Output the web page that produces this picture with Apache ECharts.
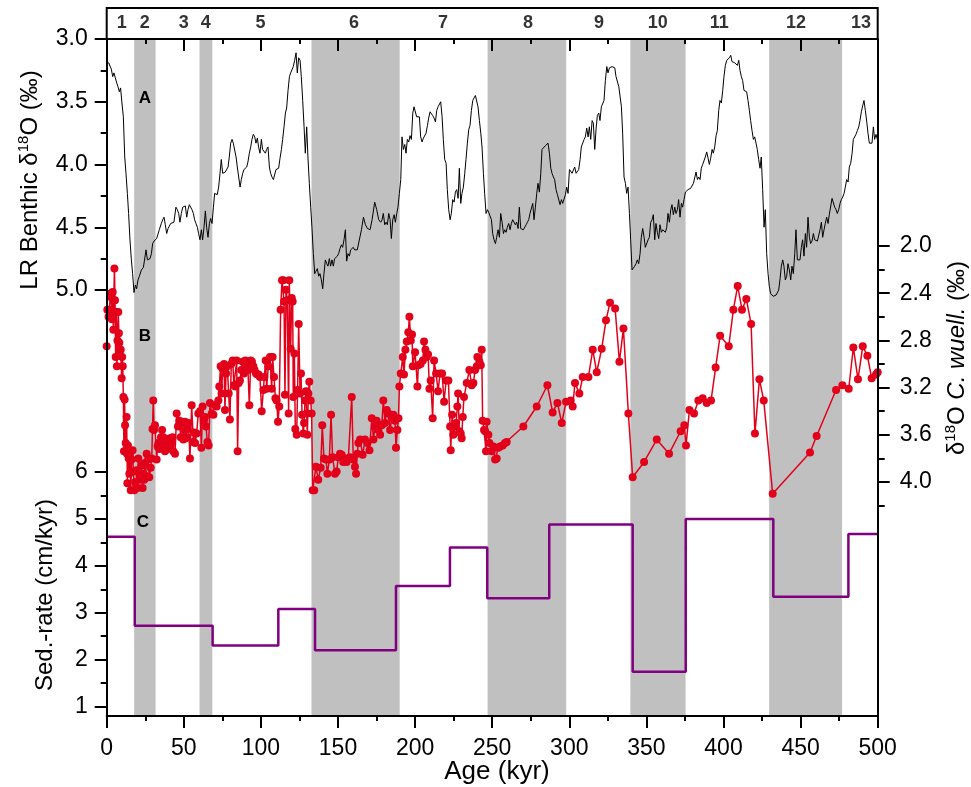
<!DOCTYPE html>
<html><head><meta charset="utf-8">
<script src="https://cdn.jsdelivr.net/npm/echarts@6/dist/echarts.min.js"></script>
<style>html,body{margin:0;padding:0;background:#fff}#c{width:971px;height:787px}</style>
</head><body><div id="c"></div>
<script>
// ---- DATA (age in kyr) ----
const lrBenthic = [[0,3.19],[1.3,3.19],[2.1,3.19],[3.0,3.24],[3.9,3.30],[4.7,3.27],[5.6,3.31],[6.5,3.35],[7.3,3.38],[8.2,3.42],[9.0,3.39],[9.9,3.51],[10.8,3.62],[11.7,3.94],[12.5,4.07],[13.4,4.23],[14.2,4.39],[15.1,4.60],[16.0,4.76],[16.8,4.87],[17.7,5.02],[18.6,4.96],[19.4,4.99],[20.3,4.92],[21.2,4.89],[22.5,4.84],[23.8,4.82],[24.6,4.81],[25.5,4.68],[26.4,4.76],[27.2,4.76],[28.1,4.75],[29.0,4.71],[29.8,4.63],[30.7,4.61],[31.5,4.60],[32.4,4.59],[33.3,4.58],[34.1,4.52],[35.4,4.47],[36.3,4.44],[37.2,4.42],[38.0,4.48],[38.9,4.55],[39.8,4.51],[40.6,4.50],[41.5,4.47],[42.3,4.48],[43.6,4.46],[44.9,4.34],[45.8,4.36],[46.7,4.39],[47.5,4.46],[48.4,4.39],[49.3,4.34],[50.1,4.34],[51.0,4.33],[51.9,4.42],[52.7,4.36],[53.6,4.32],[54.5,4.32],[55.3,4.36],[56.2,4.39],[57.0,4.44],[57.9,4.47],[58.8,4.50],[59.6,4.55],[60.5,4.60],[61.4,4.52],[62.2,4.60],[63.1,4.50],[64.0,4.37],[64.8,4.50],[65.7,4.58],[66.6,4.47],[67.4,4.43],[68.3,4.47],[69.2,4.34],[70.0,4.23],[70.9,4.22],[71.7,4.24],[72.6,4.18],[73.5,4.07],[74.3,3.96],[75.2,4.07],[76.1,4.08],[76.9,4.06],[77.8,4.06],[78.7,4.02],[79.5,3.94],[80.4,3.83],[81.3,3.80],[82.1,3.83],[83.0,3.83],[83.9,3.94],[84.7,4.02],[85.6,4.10],[86.5,4.18],[87.3,4.12],[88.2,4.07],[89.0,4.04],[89.9,4.03],[90.8,4.02],[91.6,3.98],[92.5,3.91],[93.4,3.86],[94.2,3.80],[95.1,3.76],[96.0,3.78],[96.8,3.83],[97.7,3.79],[98.5,3.86],[99.4,3.91],[100.3,3.80],[101.1,3.88],[102.0,3.87],[102.9,3.91],[103.7,3.88],[104.6,3.86],[105.5,4.02],[106.3,4.07],[107.2,4.10],[108.1,4.12],[108.9,4.12],[109.8,4.04],[110.7,4.03],[111.5,4.03],[112.4,3.95],[113.3,3.88],[114.1,3.80],[115.0,3.70],[115.9,3.59],[116.7,3.55],[117.6,3.41],[118.5,3.30],[119.3,3.27],[120.2,3.26],[121.0,3.22],[121.9,3.17],[122.8,3.11],[123.6,3.27],[124.5,3.15],[125.4,3.17],[126.2,3.30],[127.1,3.49],[128.0,3.70],[128.8,3.91],[129.7,3.70],[130.5,3.94],[131.4,4.15],[132.3,4.34],[133.1,4.50],[134.0,4.71],[134.9,4.87],[135.7,4.85],[136.6,4.83],[137.5,4.89],[138.3,4.87],[139.2,4.92],[140.1,4.99],[140.9,4.87],[141.8,4.76],[142.7,4.79],[143.5,4.81],[144.4,4.75],[145.2,4.81],[146.1,4.76],[147.0,4.81],[147.8,4.75],[148.7,4.76],[149.6,4.73],[150.4,4.71],[151.3,4.67],[152.2,4.64],[153.0,4.66],[153.9,4.60],[154.8,4.52],[155.6,4.77],[156.5,4.71],[157.4,4.73],[158.2,4.68],[159.1,4.67],[159.9,4.66],[160.8,4.68],[161.7,4.67],[162.5,4.68],[163.4,4.69],[165.2,4.52],[166.5,4.42],[167.8,4.48],[169.1,4.51],[170.8,4.52],[172.1,4.44],[173.8,4.30],[175.1,4.36],[176.4,4.44],[177.7,4.46],[178.6,4.44],[179.4,4.39],[180.3,4.48],[181.2,4.46],[182.0,4.48],[182.9,4.39],[183.8,4.44],[184.6,4.59],[185.5,4.44],[186.4,4.40],[187.2,4.46],[188.1,4.39],[188.9,4.34],[189.8,4.23],[190.7,4.12],[191.5,3.78],[192.4,3.88],[193.3,3.84],[194.1,3.91],[195.0,3.80],[195.9,3.82],[196.7,3.77],[197.6,3.80],[198.5,3.59],[199.3,3.54],[200.2,3.54],[201.0,3.62],[201.9,3.63],[202.8,3.62],[203.6,3.78],[204.5,3.82],[205.4,3.79],[206.2,3.79],[207.1,3.75],[208.0,3.69],[208.8,3.63],[209.7,3.58],[210.6,3.59],[211.4,3.61],[212.3,3.63],[213.2,3.66],[214.0,3.57],[214.9,3.54],[215.8,3.53],[216.6,3.50],[217.5,3.62],[218.3,3.80],[219.2,3.96],[220.1,3.99],[220.9,4.20],[221.8,4.36],[222.7,4.44],[223.5,4.39],[224.4,4.28],[225.3,4.30],[226.1,4.22],[227.0,4.20],[227.9,4.27],[228.7,4.03],[229.6,4.31],[230.4,4.23],[231.3,4.18],[232.2,4.07],[233.0,3.96],[233.9,3.83],[234.8,3.72],[235.6,3.69],[236.5,3.57],[237.4,3.49],[238.2,3.47],[239.1,3.45],[240.0,3.46],[240.8,3.54],[241.7,3.65],[242.6,3.75],[243.4,3.86],[244.3,4.07],[245.1,4.23],[246.0,4.39],[246.9,4.36],[247.7,4.38],[248.6,4.39],[249.5,4.44],[250.3,4.55],[251.2,4.60],[252.1,4.63],[252.9,4.58],[253.8,4.52],[254.7,4.58],[255.5,4.39],[256.4,4.46],[257.3,4.55],[258.1,4.52],[259.0,4.54],[259.8,4.50],[260.7,4.47],[261.6,4.52],[262.4,4.47],[263.3,4.44],[264.2,4.43],[265.0,4.48],[265.9,4.46],[266.8,4.51],[267.6,4.34],[268.5,4.51],[269.4,4.52],[270.2,4.52],[271.1,4.51],[272.0,4.48],[272.8,4.46],[273.7,4.44],[274.5,4.39],[275.4,4.39],[276.3,4.31],[277.1,4.44],[278.0,4.34],[278.9,4.23],[279.7,4.15],[280.6,4.22],[281.5,4.07],[282.3,3.88],[283.2,3.87],[284.5,3.85],[286.2,3.83],[287.1,3.91],[288.0,4.03],[288.8,4.07],[289.7,4.10],[290.5,4.12],[291.4,4.20],[292.3,4.24],[293.1,4.23],[294.0,4.32],[294.9,4.28],[295.7,4.31],[296.6,4.30],[297.5,4.24],[298.3,4.18],[299.2,4.23],[300.1,4.04],[300.9,4.03],[301.8,4.07],[302.6,4.06],[303.5,4.02],[304.4,4.07],[305.2,4.07],[306.1,4.04],[307.0,3.96],[307.8,3.86],[308.7,3.87],[309.6,3.80],[310.4,3.78],[311.3,3.71],[312.2,3.78],[313.0,3.70],[313.9,3.80],[314.8,3.65],[315.6,3.67],[316.5,3.88],[317.4,3.71],[318.2,3.61],[319.1,3.59],[319.9,3.65],[320.8,3.54],[321.7,3.53],[322.5,3.49],[323.4,3.33],[324.3,3.22],[325.1,3.27],[326.0,3.23],[326.9,3.23],[327.7,3.22],[328.6,3.21],[329.5,3.23],[330.3,3.30],[331.2,3.31],[332.1,3.38],[333.8,3.54],[334.6,3.75],[335.5,4.10],[336.4,4.15],[337.2,4.23],[338.1,4.18],[339.0,4.39],[339.8,4.60],[340.7,4.84],[341.5,4.84],[342.4,4.81],[343.3,4.79],[344.1,4.76],[345.0,4.79],[345.9,4.71],[346.7,4.58],[347.6,4.51],[348.5,4.58],[349.3,4.66],[350.2,4.67],[351.1,4.60],[351.9,4.58],[352.8,4.46],[353.7,4.44],[354.5,4.40],[355.4,4.60],[356.2,4.47],[357.1,4.54],[358.0,4.59],[358.8,4.48],[359.7,4.54],[360.6,4.52],[361.4,4.52],[362.3,4.54],[363.2,4.50],[364.0,4.39],[364.9,4.46],[365.8,4.36],[366.6,4.32],[367.5,4.40],[368.4,4.34],[369.2,4.39],[370.1,4.36],[370.9,4.28],[371.8,4.42],[372.7,4.31],[373.5,4.34],[374.4,4.28],[375.3,4.22],[376.1,4.22],[377.0,4.20],[377.9,4.19],[378.7,4.19],[379.6,4.18],[380.5,4.15],[381.3,4.15],[382.2,4.06],[383.1,4.12],[383.9,4.10],[384.8,4.12],[385.6,4.03],[386.5,4.00],[387.4,3.99],[388.2,3.94],[389.1,3.90],[390.0,3.95],[390.8,4.00],[391.7,3.95],[392.6,3.88],[393.4,3.91],[394.3,3.86],[395.2,3.77],[396.0,3.73],[396.9,3.57],[397.7,3.49],[398.6,3.51],[399.5,3.41],[400.3,3.30],[401.2,3.21],[402.1,3.17],[402.9,3.17],[403.8,3.15],[404.7,3.13],[405.5,3.18],[406.4,3.17],[407.3,3.19],[408.1,3.18],[409.0,3.21],[409.9,3.17],[410.7,3.25],[411.6,3.30],[412.4,3.33],[413.3,3.41],[414.2,3.42],[415.0,3.42],[415.9,3.49],[416.8,3.57],[417.6,3.65],[418.5,3.73],[419.4,3.80],[420.2,3.78],[421.1,3.83],[421.9,3.88],[422.8,3.96],[423.7,4.03],[424.5,3.94],[425.4,4.20],[426.3,4.50],[427.1,4.36],[428.0,4.71],[428.9,4.87],[429.7,4.97],[430.6,5.03],[431.5,5.04],[432.3,5.05],[433.2,5.05],[434.1,5.04],[434.9,5.04],[435.8,5.00],[436.7,4.91],[437.5,4.81],[438.4,4.76],[439.2,4.81],[440.1,4.92],[441.0,4.89],[441.8,4.79],[442.7,4.84],[443.6,4.92],[444.4,4.81],[445.3,4.87],[446.2,4.71],[447.0,4.52],[447.9,4.76],[448.8,4.75],[449.6,4.76],[450.5,4.66],[451.3,4.60],[452.2,4.73],[453.1,4.55],[453.9,4.66],[454.8,4.42],[455.7,4.58],[456.5,4.63],[457.4,4.61],[458.3,4.55],[459.1,4.60],[460.0,4.59],[460.9,4.61],[461.7,4.60],[462.6,4.52],[463.5,4.46],[464.3,4.58],[465.2,4.52],[466.0,4.47],[466.9,4.42],[467.8,4.47],[468.6,4.40],[469.5,4.39],[470.4,4.27],[471.2,4.28],[472.1,4.34],[473.0,4.36],[473.8,4.39],[474.7,4.36],[475.6,4.31],[476.4,4.28],[477.3,4.26],[478.2,4.23],[479.0,4.18],[479.9,4.12],[480.8,4.14],[481.6,4.02],[482.5,3.99],[483.4,3.91],[484.2,3.80],[485.1,3.79],[485.9,3.76],[486.8,3.73],[487.7,3.70],[488.5,3.65],[489.4,3.58],[490.3,3.53],[491.1,3.49],[492.0,3.57],[492.9,3.66],[493.7,3.75],[494.6,3.83],[495.5,3.83],[496.3,3.83],[497.2,3.70],[498.0,3.80],[498.9,3.76],[499.8,3.80]];

const cWuell = [[0.0,2.85],[0.4,2.54],[1.2,2.60],[1.7,2.54],[2.3,2.43],[2.8,2.40],[3.4,2.62],[3.9,2.39],[4.3,2.71],[5.0,2.19],[5.4,2.46],[5.8,2.94],[6.2,2.56],[6.6,3.02],[7.0,2.80],[7.5,2.56],[7.9,2.74],[8.2,2.82],[8.7,2.93],[9.1,2.88],[9.7,3.12],[10.0,2.94],[10.4,3.02],[10.8,3.28],[11.2,3.74],[11.6,3.30],[11.9,3.52],[12.3,3.67],[12.9,3.45],[13.2,3.76],[13.4,4.01],[13.8,3.69],[14.3,3.80],[14.7,3.93],[15.1,3.76],[15.6,4.07],[16.2,3.81],[16.8,3.73],[17.3,3.91],[17.9,4.07],[18.5,4.00],[19.0,4.04],[19.4,3.90],[20.0,4.05],[20.5,3.80],[21.2,3.93],[22.0,3.98],[22.6,3.86],[23.3,4.05],[23.8,3.93],[24.3,3.98],[24.8,3.84],[25.3,3.95],[25.9,3.76],[26.8,3.81],[27.6,3.96],[28.5,3.88],[29.2,3.80],[29.7,3.55],[30.2,3.31],[30.7,3.56],[31.3,3.52],[32.4,3.81],[33.0,3.70],[33.5,3.67],[34.1,3.72],[34.6,3.66],[35.2,3.62],[35.9,3.56],[36.7,3.62],[37.2,3.68],[37.8,3.74],[38.4,3.65],[38.9,3.66],[39.5,3.72],[40.0,3.70],[41.0,3.63],[41.6,3.69],[42.1,3.67],[42.7,3.62],[43.2,3.74],[44.3,3.76],[45.4,3.42],[46.2,3.53],[47.1,3.48],[48.0,3.62],[48.8,3.49],[49.7,3.64],[50.3,3.50],[50.8,3.49],[51.3,3.63],[51.9,3.62],[52.5,3.55],[53.0,3.50],[54.0,3.80],[55.1,3.35],[56.2,3.66],[56.7,3.58],[57.3,3.67],[58.3,3.59],[59.4,3.42],[60.5,3.40],[61.4,3.71],[62.2,3.36],[63.1,3.48],[63.7,3.45],[64.4,3.53],[65.3,3.66],[66.1,3.69],[67.0,3.33],[68.1,3.42],[69.2,3.43],[70.2,3.35],[71.3,3.36],[72.4,3.31],[73.0,3.19],[73.9,3.02],[74.5,3.25],[75.2,3.04],[76.1,3.00],[76.7,3.39],[77.4,3.08],[78.2,3.02],[79.1,3.25],[79.9,3.47],[80.8,3.00],[81.7,2.97],[82.5,3.18],[83.4,3.19],[84.3,2.97],[84.9,3.74],[85.6,3.16],[86.4,3.14],[87.3,3.05],[88.2,2.98],[89.0,3.08],[89.9,2.97],[90.8,3.01],[91.6,3.05],[92.5,3.35],[93.4,2.97],[94.2,2.98],[95.1,3.02],[95.9,3.05],[96.8,3.08],[97.7,3.09],[98.5,3.09],[99.4,3.11],[100.5,3.40],[101.6,3.22],[102.2,3.11],[103.1,2.97],[103.7,3.21],[104.8,3.02],[105.9,2.94],[107.0,3.21],[107.6,2.94],[108.5,3.11],[109.4,3.29],[110.2,3.31],[111.1,3.49],[111.9,3.36],[112.8,2.54],[113.7,2.29],[114.5,2.29],[115.0,2.47],[115.6,3.26],[116.3,2.37],[117.1,2.46],[118.0,3.42],[118.4,2.29],[119.3,2.87],[120.0,2.44],[120.6,2.47],[121.0,3.28],[121.7,2.91],[122.3,3.55],[123.2,3.60],[123.8,3.22],[124.5,2.66],[125.4,3.25],[126.0,3.08],[126.7,3.43],[127.5,3.59],[128.0,3.50],[128.6,3.31],[129.2,3.23],[129.7,3.42],[130.1,3.60],[130.8,3.25],[131.4,3.15],[132.3,3.31],[132.9,3.42],[133.6,4.07],[134.6,4.07],[135.7,3.87],[137.2,3.98],[138.8,3.88],[139.8,3.52],[140.9,3.80],[142.2,3.81],[143.1,3.93],[144.4,3.81],[145.5,3.43],[146.5,3.79],[148.0,3.93],[149.1,3.91],[150.2,3.79],[151.3,3.76],[152.4,3.77],[153.4,3.83],[154.5,3.80],[155.6,3.83],[156.7,3.80],[157.8,3.79],[158.9,3.28],[159.9,3.81],[161.0,3.87],[161.7,3.93],[162.5,3.76],[163.2,3.67],[164.3,3.64],[166.0,3.77],[167.5,3.64],[169.1,3.67],[170.4,3.73],[171.9,3.46],[173.0,3.64],[174.0,3.53],[175.1,3.48],[176.2,3.56],[177.3,3.60],[178.4,3.52],[179.4,3.31],[180.5,3.50],[181.6,3.39],[182.7,3.42],[183.8,3.56],[184.8,3.46],[185.9,3.43],[187.0,3.48],[187.6,3.71],[188.5,3.56],[189.2,3.46],[189.8,3.19],[190.7,3.08],[192.0,2.94],[192.8,3.09],[193.7,2.88],[194.6,2.81],[195.6,2.73],[196.3,2.60],[197.2,2.80],[198.0,2.75],[198.5,3.02],[200.0,2.90],[201.5,3.19],[202.1,3.01],[203.6,3.00],[205.0,2.97],[205.8,2.81],[206.7,2.88],[207.5,2.94],[208.4,2.92],[209.3,3.21],[210.1,3.14],[211.4,3.46],[212.3,2.97],[213.6,3.08],[214.9,3.23],[216.2,3.08],[217.5,3.08],[218.8,3.32],[220.1,3.14],[221.6,3.14],[222.7,3.53],[223.1,3.73],[224.0,3.43],[224.8,3.60],[225.9,3.53],[226.6,3.50],[227.4,3.36],[227.9,3.25],[228.7,3.57],[229.6,3.59],[230.2,3.63],[230.9,3.45],[231.7,3.28],[233.5,3.16],[235.2,3.05],[236.7,3.18],[237.8,3.16],[238.9,3.05],[240.0,3.02],[240.4,2.94],[241.7,2.98],[242.6,3.01],[243.2,2.88],[243.8,3.48],[244.7,3.56],[245.4,3.57],[246.0,3.74],[246.4,3.49],[247.5,3.60],[248.2,3.67],[249.7,3.74],[250.8,3.70],[251.9,3.81],[252.9,3.80],[254.0,3.71],[255.1,3.70],[256.8,3.69],[258.3,3.67],[259.4,3.66],[270.2,3.53],[278.9,3.36],[285.8,3.18],[289.2,3.41],[292.3,3.33],[295.1,3.50],[297.9,3.32],[300.9,3.31],[302.2,3.36],[303.7,3.16],[306.5,3.25],[308.7,3.11],[312.4,3.11],[315.2,2.88],[317.8,3.07],[321.0,2.87],[323.8,2.63],[326.4,2.48],[329.7,2.53],[332.5,2.98],[335.1,2.70],[338.3,3.42],[341.1,3.96],[348.5,3.83],[356.7,3.64],[364.7,3.76],[372.2,3.57],[374.6,3.52],[375.7,3.69],[377.9,3.39],[380.9,3.42],[383.7,3.31],[386.5,3.29],[389.1,3.33],[391.9,3.31],[394.9,3.03],[397.8,2.76],[403.4,2.85],[406.4,2.54],[409.2,2.34],[412.0,2.54],[414.8,2.45],[417.9,2.66],[420.4,3.59],[423.3,3.13],[426.1,3.31],[431.9,4.10],[456.1,3.75],[460.4,3.61],[473.0,3.22],[477.1,3.18],[481.2,3.21],[484.2,2.86],[487.2,3.13],[490.3,2.85],[493.3,2.93],[496.1,3.12],[498.9,3.09],[500.0,3.07]];

const sedBounds = [0,18.2,68.7,111.3,135.1,187.6,222.6,246.8,287.0,341.1,375.5,432.3,481.0,500];
const sedRate   = [4.62,2.72,2.30,3.08,2.20,3.57,4.39,3.31,4.88,1.74,5.00,3.34,4.68];

const misLabels = ['1','2','3','4','5','6','7','8','9','10','11','12','13'];
const misAge    = [9.7,24.6,50.0,64.2,99.7,160.4,218.1,273.2,319.3,357.3,397.3,447.0,489.2];
const glacialBands = [[17.8,31.7],[60.2,68.5],[132.8,190.0],[247.0,298.0],[339.6,375.4],[429.6,476.9]];

// tick ranges: [min, max, interval]
const lrMajorTicks  = [3.0, 5.0, 0.5];
const lrMinorTicks  = [3.25, 4.75, 0.5];
const cwMajorTicks  = [2.0, 4.0, 0.4];
const cwMinorTicks  = [2.2, 4.2, 0.4];
const sedMajorTicks = [1, 6, 1];
const sedMinorTicks = [1.5, 5.5, 1];

// ---- CHART ----
const FONT = 'Liberation Sans, Arial, sans-serif';
const L = 106.7, R = 971 - 877.7;
const chart = echarts.init(document.getElementById('c'), null, {renderer: 'canvas'});

const sedData = sedRate.map((v, i) => [sedBounds[i], v]);
sedData.push([sedBounds[sedBounds.length - 1], sedRate[sedRate.length - 1]]);

const scaleA = {ref: 3.0, y: 39, ppu: 125.5};
const scaleB = {ref: 2.0, y: 246, ppu: 118};
const scaleC = {ref: 6.0, y: 472, ppu: 46.9, up: true};
function gridFor(sc, t) {
  const a = t[0], b = t[1];
  const top = sc.up ? sc.y + (sc.ref - b) * sc.ppu : sc.y + (a - sc.ref) * sc.ppu;
  return {left: L, right: R, top: top, height: (b - a) * sc.ppu};
}
const grids = [
  {left: L, right: R, top: 39, bottom: 71},
  gridFor(scaleA, lrMajorTicks),
  gridFor(scaleA, lrMinorTicks),
  gridFor(scaleB, cwMajorTicks),
  gridFor(scaleB, cwMinorTicks),
  gridFor(scaleC, sedMajorTicks),
  gridFor(scaleC, sedMinorTicks),
  {left: L, right: R, top: 8, height: 31, show: true, borderColor: '#000', borderWidth: 2, backgroundColor: 'transparent'}
];

const hiddenX = (g) => ({type: 'value', gridIndex: g, min: 0, max: 500, show: false, axisLine: {onZero: false}});
function valAxis(g, pos, t, len, labels, inverse, margin) {
  return {
    type: 'value', gridIndex: g, position: pos, min: t[0], max: t[1], interval: t[2], inverse: !!inverse, z: 10,
    splitLine: {show: false}, axisLine: {show: false, onZero: false},
    axisTick: {show: true, length: len, lineStyle: {color: '#000', width: 2}},
    axisLabel: labels ? {show: true, color: '#000', fontSize: 23, fontFamily: FONT, margin: margin, formatter: labels} : {show: false}
  };
}

const option = {
  animation: false,
  backgroundColor: '#fff',
  grid: grids,
  xAxis: [
    {type: 'value', gridIndex: 0, position: 'bottom', min: 0, max: 500, interval: 50, z: 10,
      splitLine: {show: false},
      axisLine: {show: true, onZero: false, lineStyle: {color: '#000', width: 2}},
      axisTick: {show: true, length: 12, lineStyle: {color: '#000', width: 2}},
      minorTick: {show: true, splitNumber: 2, length: 5, lineStyle: {color: '#000', width: 2}},
      axisLabel: {color: '#000', fontSize: 23, fontFamily: FONT, margin: 21}},
    {type: 'value', gridIndex: 0, position: 'top', min: 0, max: 500, interval: 50, z: 10,
      splitLine: {show: false},
      axisLine: {show: true, onZero: false, lineStyle: {color: '#000', width: 2}},
      axisTick: {show: true, inside: true, length: 12, lineStyle: {color: '#000', width: 2}},
      minorTick: {show: true, splitNumber: 2, length: 5, lineStyle: {color: '#000', width: 2}},
      axisLabel: {show: false}},
    hiddenX(1), hiddenX(2), hiddenX(3), hiddenX(4), hiddenX(5), hiddenX(6), hiddenX(7)
  ],
  yAxis: [
    {type: 'value', gridIndex: 0, position: 'left', min: 0, max: 1, z: 10, splitLine: {show: false},
      axisLine: {show: true, onZero: false, lineStyle: {color: '#000', width: 2}}, axisTick: {show: false}, axisLabel: {show: false}},
    {type: 'value', gridIndex: 0, position: 'right', min: 0, max: 1, z: 10, splitLine: {show: false},
      axisLine: {show: true, onZero: false, lineStyle: {color: '#000', width: 2}}, axisTick: {show: false}, axisLabel: {show: false}},
    valAxis(1, 'left', lrMajorTicks, 12, v => v.toFixed(1), true, 19),
    valAxis(2, 'left', lrMinorTicks, 6, null, true),
    valAxis(3, 'right', cwMajorTicks, 12, v => v.toFixed(1), true, 22),
    valAxis(4, 'right', cwMinorTicks, 7, null, true),
    valAxis(5, 'left', sedMajorTicks, 12, v => String(Math.round(v)), false, 19),
    valAxis(6, 'left', sedMinorTicks, 6, null, false),
    {type: 'value', gridIndex: 7, min: 0, max: 1, show: false, axisLine: {onZero: false}}
  ],
  series: [
    {type: 'line', xAxisIndex: 0, yAxisIndex: 0, data: [[0, -5]], showSymbol: false, z: 1, silent: true,
      lineStyle: {width: 0},
      markArea: {silent: true, itemStyle: {color: '#c0c0c0'},
        data: glacialBands.map(b => [{xAxis: b[0]}, {xAxis: b[1]}])}},
    {type: 'line', xAxisIndex: 2, yAxisIndex: 2, data: lrBenthic, showSymbol: false, clip: false, z: 4,
      lineStyle: {color: '#000', width: 1}},
    {type: 'line', xAxisIndex: 4, yAxisIndex: 4, data: cWuell, symbol: 'circle', symbolSize: 8, showSymbol: true, clip: false, z: 5,
      itemStyle: {color: '#e2001a'}, lineStyle: {color: '#e2001a', width: 1.5}},
    {type: 'line', xAxisIndex: 6, yAxisIndex: 6, data: sedData, step: 'end', showSymbol: false, clip: false, z: 5,
      lineStyle: {color: '#800080', width: 2.5}},
    {type: 'scatter', xAxisIndex: 8, yAxisIndex: 8, symbolSize: 0, z: 6,
      data: misAge.map((a, i) => ({name: misLabels[i], value: [a, 0.5]})),
      label: {show: true, position: 'inside', formatter: p => p.name, color: '#000', fontSize: 18, fontWeight: 'bold', fontFamily: FONT}}
  ],
  graphic: [
    {type: 'text', x: 30, y: 180, rotation: Math.PI / 2, z: 20,
      style: {text: '{a|LR Benthic δ}{s|18}{a|O (‰)}', align: 'center', verticalAlign: 'middle', fill: '#000',
        rich: {a: {fontSize: 24, fontFamily: FONT, lineHeight: 28}, s: {fontSize: 15, fontFamily: FONT, lineHeight: 15, verticalAlign: 'top'}}}},
    {type: 'text', x: 45, y: 595, rotation: Math.PI / 2, z: 20,
      style: {text: 'Sed.-rate (cm/kyr)', align: 'center', verticalAlign: 'middle', fill: '#000', fontSize: 24, fontFamily: FONT}},
    {type: 'text', x: 957, y: 358, rotation: Math.PI / 2, z: 20,
      style: {text: '{a|δ}{s|18}{a|O }{i|C. wuell.}{a| (‰)}', align: 'center', verticalAlign: 'middle', fill: '#000',
        rich: {a: {fontSize: 24, fontFamily: FONT, lineHeight: 28}, i: {fontSize: 24, fontStyle: 'italic', fontFamily: FONT, lineHeight: 28},
          s: {fontSize: 15, fontFamily: FONT, lineHeight: 15, verticalAlign: 'top'}}}},
    {type: 'text', x: 497, y: 772, z: 20,
      style: {text: 'Age (kyr)', align: 'center', verticalAlign: 'middle', fill: '#000', fontSize: 26, fontFamily: FONT}},
    {type: 'text', x: 145, y: 98, z: 20, style: {text: 'A', align: 'center', verticalAlign: 'middle', fill: '#000', fontSize: 17, fontWeight: 'bold', fontFamily: FONT}},
    {type: 'text', x: 145, y: 336, z: 20, style: {text: 'B', align: 'center', verticalAlign: 'middle', fill: '#000', fontSize: 17, fontWeight: 'bold', fontFamily: FONT}},
    {type: 'text', x: 143, y: 522, z: 20, style: {text: 'C', align: 'center', verticalAlign: 'middle', fill: '#000', fontSize: 17, fontWeight: 'bold', fontFamily: FONT}}
  ]
};
chart.setOption(option);
</script></body></html>
